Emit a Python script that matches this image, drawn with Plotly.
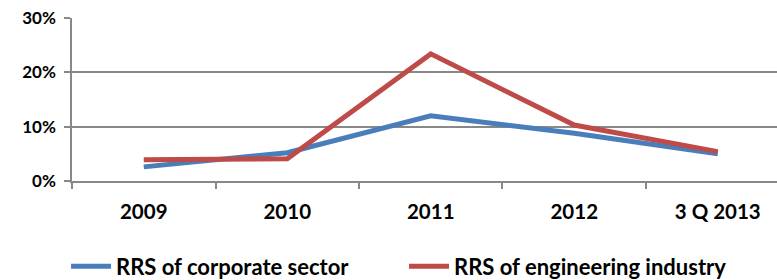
import plotly.graph_objects as go

categories = ["2009", "2010", "2011", "2012", "3 Q 2013"]
corporate = [2.6, 5.2, 12.0, 8.8, 5.0]
engineering = [3.9, 4.1, 23.4, 10.3, 5.4]
names = ["RRS of corporate sector", "RRS of engineering industry"]
y_ticks = [0, 10, 20, 30]
y_labels = ["0%", "10%", "20%", "30%"]

FONT = "Lato"
fig = go.Figure()
fig.add_trace(go.Scatter(x=categories, y=corporate, mode="lines", name=names[0],
                         line=dict(color="#4A7EBB", width=5)))
fig.add_trace(go.Scatter(x=categories, y=engineering, mode="lines", name=names[1],
                         line=dict(color="#BE4B48", width=5)))

fig.update_layout(
    width=777, height=280,
    margin=dict(l=72, r=0, t=18, b=99, autoexpand=False),
    paper_bgcolor="white", plot_bgcolor="white",
    font=dict(family=FONT, size=16, color="black"),
    showlegend=True,
    legend=dict(orientation="h", xref="container", yref="container",
                x=0.085, xanchor="left", y=0.048, yanchor="middle",
                font=dict(family=FONT, size=22, color="black", weight="bold"),
                itemwidth=40, entrywidth=283, tracegroupgap=0),
)
fig.update_xaxes(type="category", range=[-0.5, 4.413], tickson="boundaries",
                 ticks="outside", ticklen=6, tickcolor="#888888", tickwidth=1.5,
                 showline=True, linecolor="#888888", linewidth=1.5, showgrid=False,
                 automargin=False,
                 tickfont=dict(family=FONT, size=20.5, weight="bold"), ticklabelstandoff=12)
fig.update_yaxes(range=[0, 30], tickvals=y_ticks, ticktext=y_labels,
                 ticks="outside", ticklen=6, tickcolor="#888888", tickwidth=1.5,
                 showline=True, linecolor="#888888", linewidth=1.5,
                 showgrid=True, gridcolor="#888888", gridwidth=1.5, zeroline=False,
                 automargin=False,
                 tickfont=dict(family=FONT, size=17, weight="bold"), ticklabelstandoff=5)

fig.write_html("out.html", config={"displayModeBar": False},
               post_script="document.body.style.margin='0';document.body.style.overflow='hidden';")
